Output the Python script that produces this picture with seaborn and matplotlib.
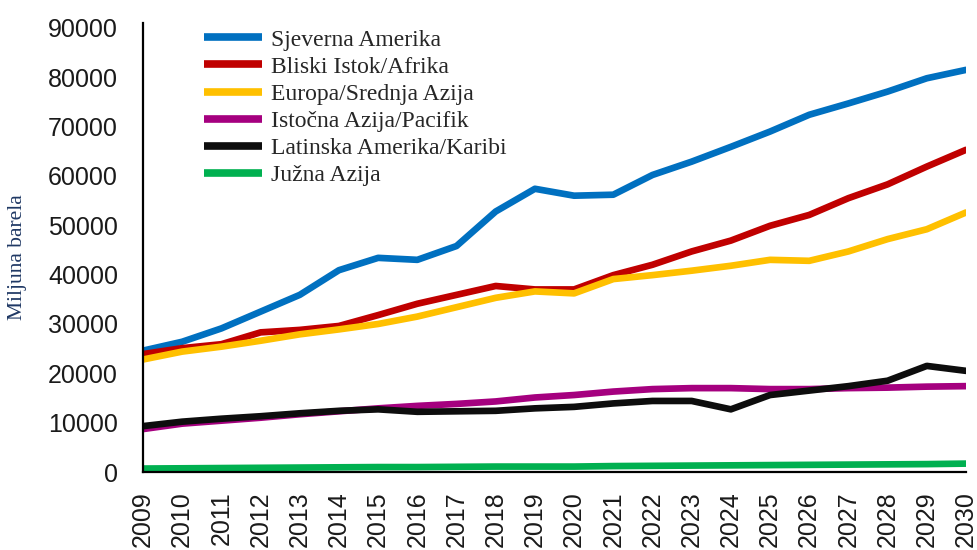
import matplotlib
matplotlib.use("Agg")
import matplotlib.pyplot as plt
import seaborn as sns
import pandas as pd

years = list(range(2009, 2031))

sjeverna_amerika = [24600, 26400, 29100, 32500, 35900, 40900, 43400, 43000, 45800, 52800, 57400,
                    56000, 56200, 60200, 62900, 65900, 69000, 72400, 74700, 77100, 79800, 81500]
bliski_istok = [23900, 25100, 25900, 28300, 28800, 29600, 31800, 34100, 35900, 37700, 37000,
                37000, 39900, 42000, 44700, 46900, 49900, 52100, 55500, 58300, 61900, 65300]
europa = [22800, 24400, 25400, 26600, 27900, 28900, 30000, 31500, 33400, 35300, 36600,
          36200, 39100, 39900, 40800, 41800, 43000, 42800, 44700, 47200, 49200, 52600]
istocna_azija = [8700, 9800, 10400, 11000, 11700, 12300, 12900, 13400, 13800, 14300, 15100,
                 15600, 16300, 16800, 17000, 17000, 16800, 16800, 17000, 17100, 17300, 17400]
latinska_amerika = [9300, 10200, 10800, 11300, 11900, 12400, 12700, 12200, 12300, 12400, 12900,
                    13200, 13900, 14400, 14400, 12700, 15600, 16500, 17400, 18500, 21500, 20500]
juzna_azija = [700, 750, 800, 850, 900, 950, 1000, 1000, 1050, 1100, 1100,
               1100, 1200, 1250, 1300, 1350, 1400, 1450, 1500, 1550, 1600, 1700]

series_names = ["Sjeverna Amerika", "Bliski Istok/Afrika", "Europa/Srednja Azija",
                "Istočna Azija/Pacifik", "Latinska Amerika/Karibi", "Južna Azija"]
series_values = [sjeverna_amerika, bliski_istok, europa, istocna_azija, latinska_amerika, juzna_azija]
colors = ["#0070C0", "#C00000", "#FFC000", "#A5007F", "#0D0D0D", "#00B050"]

y_ticks = list(range(0, 90001, 10000))

rows = []
for name, vals in zip(series_names, series_values):
    for y, v in zip(years, vals):
        rows.append({"Godina": y, "Vrijednost": v, "Regija": name})
df = pd.DataFrame(rows)

sns.set_style("white")
plt.rcParams["font.family"] = ["Liberation Sans", "DejaVu Sans"]

fig = plt.figure(figsize=(9.77, 5.5), dpi=100)
ax = fig.add_axes([143 / 977, 78 / 550, (966 - 143) / 977, (472 - 23) / 550])

sns.lineplot(data=df, x="Godina", y="Vrijednost", hue="Regija", hue_order=series_names,
             palette=dict(zip(series_names, colors)), linewidth=4.8, ax=ax, legend=True)

ax.set_xlim(2009, 2030)
ax.set_ylim(0, 91000)
ax.set_xticks(years)
ax.set_xticklabels([str(y) for y in years], rotation=90, fontsize=18, color="#1a1a1a")
ax.set_yticks(y_ticks)
ax.set_yticklabels([str(v) for v in y_ticks], fontsize=18, color="#1a1a1a")
ax.tick_params(axis="both", length=0)
ax.tick_params(axis="y", pad=18)
ax.tick_params(axis="x", pad=14)
ax.set_xlabel("")
ax.set_ylabel("")

for s in ["top", "right"]:
    ax.spines[s].set_visible(False)
for s in ["left", "bottom"]:
    ax.spines[s].set_color("black")
    ax.spines[s].set_linewidth(1.6)

handles, labels = ax.get_legend_handles_labels()
leg = ax.legend(handles, labels, loc="upper left", bbox_to_anchor=(204 / 977, 1 - 29 / 550),
                bbox_transform=fig.transFigure, frameon=False, borderpad=0, borderaxespad=0,
                handlelength=2.45, handletextpad=0.4, labelspacing=0.24,
                prop={"family": ["Liberation Serif", "DejaVu Serif"], "size": 17})
for h in leg.get_lines():
    h.set_linewidth(5.5)
    h.set_solid_capstyle("butt")

fig.text(18 / 977, 1 - 257 / 550, "Miljuna barela", rotation=90, ha="center", va="center",
         fontsize=15.5, family=["Liberation Serif", "DejaVu Serif"], color="#1F3864")

fig.savefig("out.png", dpi=100)
